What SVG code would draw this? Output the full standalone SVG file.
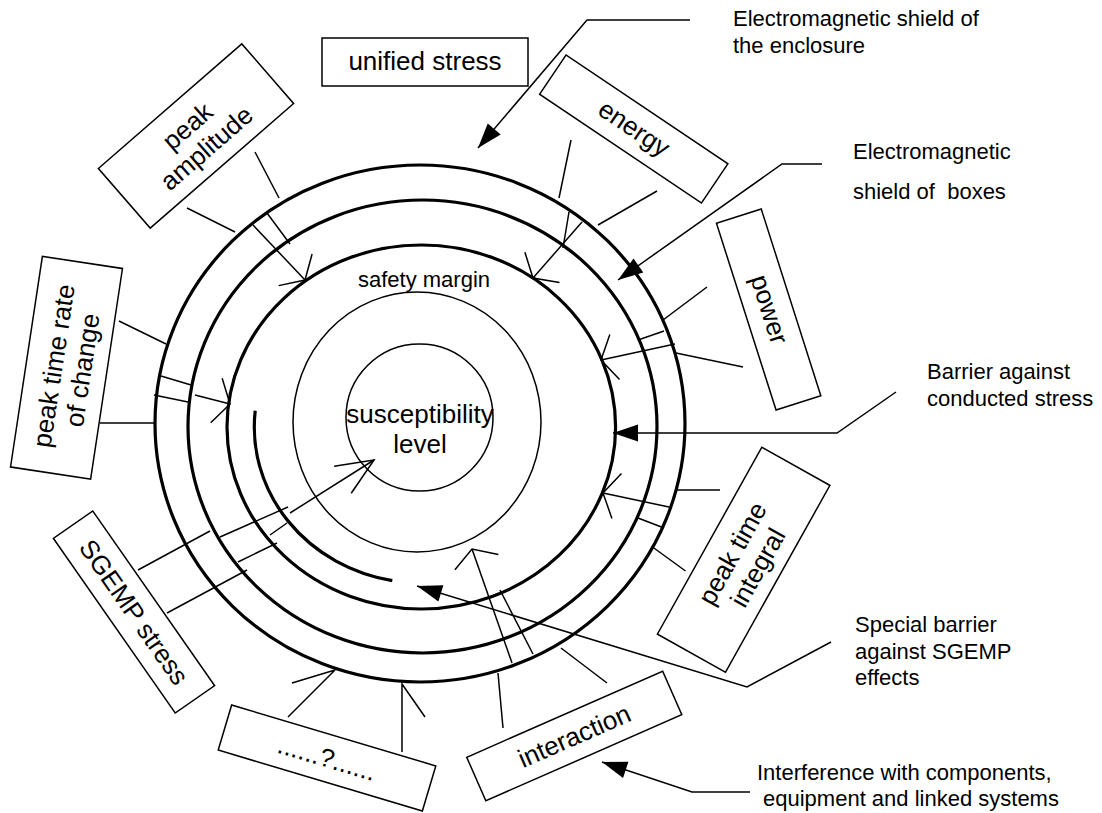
<svg xmlns="http://www.w3.org/2000/svg" width="1102" height="813" viewBox="0 0 1102 813">
  <defs>
    <style>
      .ring{fill:none;stroke:#000;stroke-width:3.2}
      .thin{fill:none;stroke:#000;stroke-width:1.5}
      .box{fill:#fff;stroke:#000;stroke-width:1.5}
      .ln{fill:none;stroke:#000;stroke-width:1.5}
      text{font-family:"Liberation Sans",Arial,sans-serif;fill:#000}
      .bt{font-size:26px;text-anchor:middle}
      .ct{font-size:22px;text-anchor:middle}
      .lb{font-size:22px}
    </style>
    <marker id="solid" markerUnits="userSpaceOnUse" orient="auto" overflow="visible" markerWidth="30" markerHeight="20">
      <path d="M0,0 L-25,-8.5 L-25,8.5 Z" fill="#000"/>
    </marker>
    <marker id="open" markerUnits="userSpaceOnUse" orient="auto" overflow="visible" markerWidth="30" markerHeight="50">
      <path d="M-14,-23 L0,0 L-14,23" fill="none" stroke="#000" stroke-width="1.5"/>
    </marker>
    <marker id="openNarrow" markerUnits="userSpaceOnUse" orient="auto" overflow="visible" markerWidth="40" markerHeight="40">
      <path d="M-37,-16 L0,0 L-37,16" fill="none" stroke="#000" stroke-width="1.5"/>
    </marker>
  </defs>

  <rect width="1102" height="813" fill="#fff"/>

  <!-- protection rings -->
  <g id="shield-enclosure"><ellipse class="ring" cx="420" cy="423.5" rx="265" ry="258.5"/></g>
  <g id="shield-boxes"><ellipse class="ring" cx="422.5" cy="426.5" rx="234.5" ry="226.5"/></g>
  <g id="barrier-conducted"><ellipse class="ring" cx="421.3" cy="427" rx="194.3" ry="182"/></g>
  <g id="barrier-sgemp"><path class="ring" d="M255.2,410.7 A167,156 0 0 0 392.3,580.6"/></g>
  <g id="safety-margin">
    <ellipse class="thin" cx="417" cy="422" rx="124" ry="130"/>
    <text class="ct" x="424" y="287">safety margin</text>
  </g>
  <g id="susceptibility">
    <circle class="thin" cx="419.5" cy="417.5" r="73.5"/>
    <text class="bt" x="420" y="423">susceptibility</text>
    <text class="bt" x="420" y="453">level</text>
  </g>

  <!-- stress boxes -->
  <g id="unified-stress">
    <rect class="box" x="322" y="38" width="206" height="48"/>
    <text class="bt" x="425" y="70">unified stress</text>
  </g>
  <g id="peak-amplitude" transform="translate(196,136) rotate(-41)">
    <rect class="box" x="-95" y="-39.5" width="190" height="79"/>
    <text class="bt" y="-4">peak</text>
    <text class="bt" y="25">amplitude</text>
  </g>
  <g id="energy" transform="translate(633.75,129) rotate(33.9)">
    <rect class="box" x="-97.5" y="-23.7" width="195" height="47.4"/>
    <text class="bt" y="8">energy</text>
  </g>
  <g id="power" transform="translate(768.65,309.5) rotate(72.3)">
    <rect class="box" x="-98" y="-23.5" width="196" height="47"/>
    <text class="bt" y="8">power</text>
  </g>
  <g id="peak-time-rate" transform="translate(66.5,367.75) rotate(-81.4)">
    <rect class="box" x="-106.5" y="-40.5" width="213" height="81"/>
    <text class="bt" y="-4">peak time rate</text>
    <text class="bt" y="25">of change</text>
  </g>
  <g id="sgemp-stress" transform="translate(134,612) rotate(55.1)">
    <rect class="box" x="-106.5" y="-24" width="213" height="48"/>
    <text class="bt" y="9">SGEMP stress</text>
  </g>
  <g id="unknown-stress" transform="translate(327,758) rotate(16.6)">
    <rect class="box" x="-106.5" y="-23.5" width="213" height="47"/>
    <text class="bt" y="9">......?......</text>
  </g>
  <g id="interaction" transform="translate(574.25,736) rotate(-23.7)">
    <rect class="box" x="-107" y="-23.75" width="214" height="47.5"/>
    <text class="bt" y="9">interaction</text>
  </g>
  <g id="peak-time-integral" transform="translate(743.65,559.75) rotate(-60.8)">
    <rect class="box" x="-107" y="-39" width="214" height="78"/>
    <text class="bt" y="-4">peak time</text>
    <text class="bt" y="25">integral</text>
  </g>

  <!-- explanatory labels -->
  <g id="label-enclosure">
    <text class="lb" x="733" y="26">Electromagnetic shield of</text>
    <text class="lb" x="733" y="53">the enclosure</text>
  </g>
  <g id="label-boxes">
    <text class="lb" x="853" y="159">Electromagnetic</text>
    <text class="lb" x="853" y="199">shield of&#160; boxes</text>
  </g>
  <g id="label-conducted">
    <text class="lb" x="927" y="379">Barrier against</text>
    <text class="lb" x="927" y="406">conducted stress</text>
  </g>
  <g id="label-sgemp">
    <text class="lb" x="855" y="632">Special barrier</text>
    <text class="lb" x="855" y="659">against SGEMP</text>
    <text class="lb" x="855" y="685">effects</text>
  </g>
  <g id="label-interference">
    <text class="lb" x="757" y="780">Interference with components,</text>
    <text class="lb" x="763" y="806">equipment and linked systems</text>
  </g>

  <!-- connectors -->
  <g id="connectors" class="ln">
    <!-- label pointers -->
    <polyline points="690,20 587,20 478,148" marker-end="url(#solid)"/>
    <polyline points="822,164 782,164 618,280" marker-end="url(#solid)"/>
    <polyline points="896,392 837,433 613,433" marker-end="url(#solid)"/>
    <polyline points="831,642 747,687 417,586" marker-end="url(#solid)"/>
    <polyline points="750,792 692,792 602,762" marker-end="url(#solid)"/>

    <!-- peak amplitude -->
    <line x1="255" y1="152" x2="279" y2="198"/>
    <line x1="187" y1="208" x2="235" y2="232"/>
    <line x1="267" y1="213" x2="290" y2="244"/>
    <line x1="253" y1="225" x2="305" y2="280" marker-end="url(#open)"/>

    <!-- energy -->
    <line x1="571" y1="140" x2="559" y2="198"/>
    <line x1="657" y1="191" x2="598" y2="225"/>
    <line x1="569" y1="212" x2="563" y2="248"/>
    <line x1="582" y1="222" x2="533" y2="278" marker-end="url(#open)"/>

    <!-- power -->
    <line x1="707" y1="287" x2="663" y2="320"/>
    <line x1="743" y1="367" x2="676" y2="353"/>
    <line x1="664" y1="331" x2="638" y2="340"/>
    <line x1="675" y1="344" x2="601" y2="360" marker-end="url(#open)"/>

    <!-- peak time rate of change -->
    <line x1="119" y1="321" x2="166" y2="344"/>
    <line x1="100" y1="423" x2="154" y2="423"/>
    <line x1="161" y1="376" x2="191" y2="385"/>
    <line x1="154" y1="395" x2="188" y2="402"/>
    <line x1="195" y1="395" x2="230" y2="404" marker-end="url(#open)"/>

    <!-- peak time integral -->
    <line x1="676" y1="490" x2="720" y2="490"/>
    <line x1="652.5" y1="547" x2="685.5" y2="571"/>
    <line x1="638" y1="518" x2="664" y2="528"/>
    <line x1="669" y1="507" x2="603" y2="493" marker-end="url(#open)"/>

    <!-- interaction -->
    <line x1="503" y1="728" x2="498" y2="673"/>
    <line x1="607" y1="683" x2="561" y2="648"/>
    <line x1="533" y1="654" x2="500" y2="590"/>
    <line x1="512" y1="663" x2="472" y2="549" marker-end="url(#open)"/>

    <!-- SGEMP stress -->
    <line x1="138" y1="570" x2="210" y2="531"/>
    <line x1="220" y1="537" x2="288" y2="507"/>
    <line x1="290" y1="513" x2="374" y2="460" marker-end="url(#openNarrow)"/>
    <line x1="167" y1="613" x2="247" y2="570"/>
    <line x1="238" y1="562" x2="277" y2="543"/>
    <line x1="270" y1="535" x2="287" y2="523"/>

    <!-- unknown stress -->
    <polyline points="288,717 335,670 292,683"/>
    <polyline points="402,752 402,684 425,717"/>
  </g>
</svg>
